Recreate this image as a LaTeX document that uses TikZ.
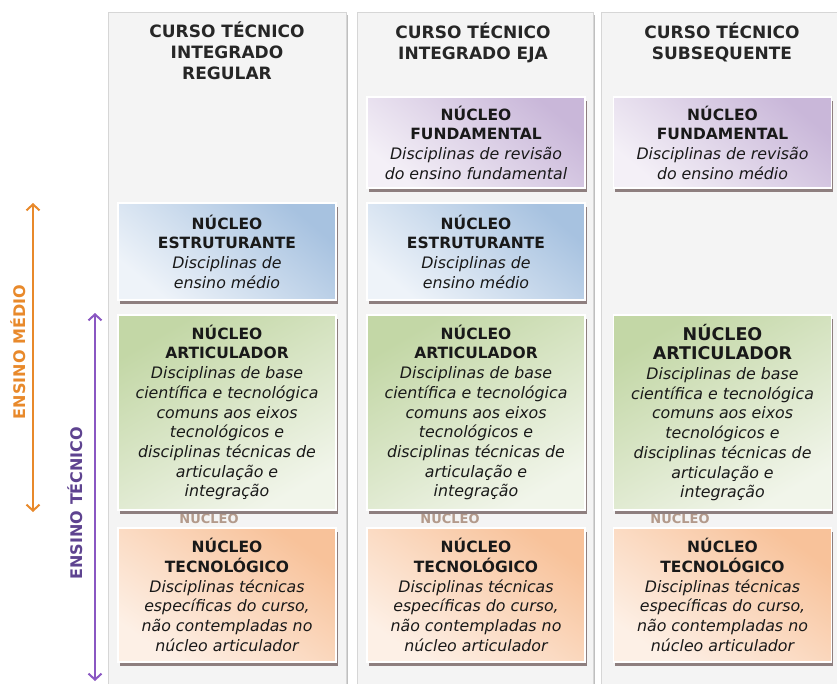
\documentclass[tikz,border=0pt]{standalone}
\usepackage{fontspec}
\setmainfont{DejaVu Sans}
\usetikzlibrary{arrows.meta,shadows}
\definecolor{panelfill}{HTML}{F4F4F4}
\definecolor{panelline}{HTML}{D6D6D6}
\definecolor{shadowc}{HTML}{8E7F7F}
\definecolor{blueA}{HTML}{A7C2E0}
\definecolor{blueB}{HTML}{EEF3F9}
\definecolor{purA}{HTML}{C9B7D9}
\definecolor{purB}{HTML}{F4F0F7}
\definecolor{greA}{HTML}{C3D7A6}
\definecolor{greB}{HTML}{F1F5EA}
\definecolor{oraA}{HTML}{F8C29A}
\definecolor{oraB}{HTML}{FDF0E6}
\definecolor{orangearrow}{HTML}{E8892B}
\definecolor{purplearrow}{HTML}{8A57C2}
\definecolor{purpletext}{HTML}{5E4390}
\definecolor{ghost}{HTML}{B39A8B}
\tikzset{
  panel/.style={fill=panelfill, draw=panelline, line width=0.8pt},
  nbox/.style={draw=white, line width=1.5pt, minimum width=218pt, align=center,
    inner sep=0pt, text=black!90, font=\fontsize{15.8}{19.7}\selectfont,
    general shadow={fill=shadowc, shadow xshift=1.5pt, shadow yshift=-4pt}},
  estbox/.style={nbox, top color=blueA, bottom color=blueB, shading angle=-40},
  fundbox/.style={nbox, top color=purA, bottom color=purB, shading angle=-40},
  artbox/.style={nbox, top color=greA, bottom color=greB, shading angle=30},
  tecbox/.style={nbox, top color=oraA, bottom color=oraB, shading angle=-35},
  header/.style={align=center, font=\bfseries\fontsize{17}{21}\selectfont, text=black!85},
  ghosttext/.style={text=ghost, font=\bfseries\fontsize{13}{13}\selectfont},
  sidelabel/.style={rotate=90, font=\bfseries\fontsize{16}{16}\selectfont},
  span/.style={line width=2pt, {Straight Barb[length=6pt,width=13pt,line width=2pt]}-{Straight Barb[length=6pt,width=13pt,line width=2pt]}},
}
\newcommand{\ttl}[1]{{\fontsize{15.5}{19.7}\selectfont\textbf{#1}}}
\newcommand{\bigttl}[1]{{\fontsize{17.5}{21}\selectfont\textbf{#1}}}
\newcommand{\itl}{\itshape}
\begin{document}
\begin{tikzpicture}[x=1pt,y=-1pt]
\useasboundingbox (0,0) rectangle (837,683);
% panels
\fill[black!25] (110,15) rectangle (348,690);
\fill[black!25] (359,15) rectangle (595,690);
\fill[black!25] (603,15) rectangle (839,690);
\node[panel, minimum width=238pt, minimum height=690pt, anchor=north west] (p1) at (108,12) {};
\node[panel, minimum width=236pt, minimum height=690pt, anchor=north west] (p2) at (357,12) {};
\node[panel, minimum width=236pt, minimum height=690pt, anchor=north west] (p3) at (601,12) {};
% headers
\node[header] (h1) at (227,51) {CURSO TÉCNICO\\INTEGRADO\\REGULAR};
\node[header] (h2) at (473,42.5) {CURSO TÉCNICO\\INTEGRADO EJA};
\node[header] (h3) at (722,42.5) {CURSO TÉCNICO\\SUBSEQUENTE};
% ghost texts (behind the boxes and their shadows)
\node[ghosttext] (g1) at (209,517.5) {NÚCLEO};
\node[ghosttext] (g2) at (450,517.5) {NÚCLEO};
\node[ghosttext] (g3) at (680,517.5) {NÚCLEO};
% column 1
\node[estbox, minimum height=97pt] (e1) at (227,251.5)
  {\ttl{NÚCLEO}\\\ttl{ESTRUTURANTE}\\\itl Disciplinas de\\\itl ensino médio};
\node[artbox, minimum height=195pt] (a1) at (227,412.5)
  {\ttl{NÚCLEO}\\\ttl{ARTICULADOR}\\\itl Disciplinas de base\\\itl científica e tecnológica\\\itl comuns aos eixos\\\itl tecnológicos e\\\itl disciplinas técnicas de\\\itl articulação e\\\itl integração};
\node[tecbox, minimum height=134pt] (t1) at (227,595)
  {\ttl{NÚCLEO}\\\ttl{TECNOLÓGICO}\\\itl Disciplinas técnicas\\\itl específicas do curso,\\\itl não contempladas no\\\itl núcleo articulador};
% column 2
\node[fundbox, minimum height=91pt] (f2) at (476,142.5)
  {\ttl{NÚCLEO}\\\ttl{FUNDAMENTAL}\\\itl Disciplinas de revisão\\\itl do ensino fundamental};
\node[estbox, minimum height=97pt] (e2) at (476,251.5)
  {\ttl{NÚCLEO}\\\ttl{ESTRUTURANTE}\\\itl Disciplinas de\\\itl ensino médio};
\node[artbox, minimum height=195pt] (a2) at (476,412.5)
  {\ttl{NÚCLEO}\\\ttl{ARTICULADOR}\\\itl Disciplinas de base\\\itl científica e tecnológica\\\itl comuns aos eixos\\\itl tecnológicos e\\\itl disciplinas técnicas de\\\itl articulação e\\\itl integração};
\node[tecbox, minimum height=134pt] (t2) at (476,595)
  {\ttl{NÚCLEO}\\\ttl{TECNOLÓGICO}\\\itl Disciplinas técnicas\\\itl específicas do curso,\\\itl não contempladas no\\\itl núcleo articulador};
% column 3
\node[fundbox, minimum height=91pt] (f3) at (722.5,142.5)
  {\ttl{NÚCLEO}\\\ttl{FUNDAMENTAL}\\\itl Disciplinas de revisão\\\itl do ensino médio};
\node[artbox, minimum height=195pt] (a3) at (722.5,412.5)
  {\bigttl{NÚCLEO}\\\bigttl{ARTICULADOR}\\\itl Disciplinas de base\\\itl científica e tecnológica\\\itl comuns aos eixos\\\itl tecnológicos e\\\itl disciplinas técnicas de\\\itl articulação e\\\itl integração};
\node[tecbox, minimum height=134pt] (t3) at (722.5,595)
  {\ttl{NÚCLEO}\\\ttl{TECNOLÓGICO}\\\itl Disciplinas técnicas\\\itl específicas do curso,\\\itl não contempladas no\\\itl núcleo articulador};
% arrows
\coordinate (om1) at (33,203);
\coordinate (om2) at (33,512);
\draw[span, orangearrow] (om1) -- (om2);
\node[sidelabel, text=orangearrow] (lm) at (18,352) {ENSINO MÉDIO};
\coordinate (pt1) at (95,313);
\coordinate (pt2) at (95,681);
\draw[span, purplearrow] (pt1) -- (pt2);
\node[sidelabel, text=purpletext] (lt) at (75,503) {ENSINO TÉCNICO};
\end{tikzpicture}
\end{document}
